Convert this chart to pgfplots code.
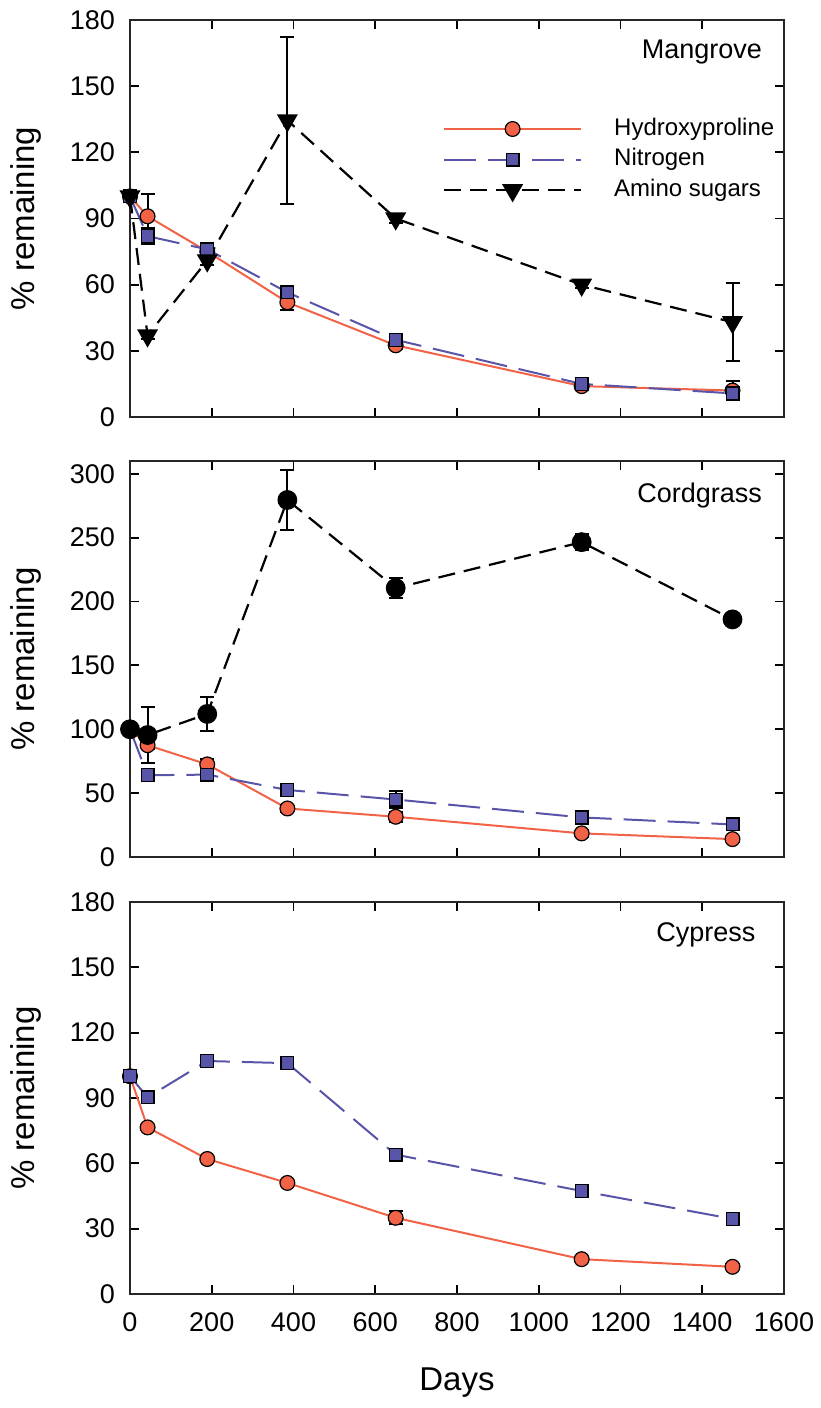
\documentclass[border=0pt]{standalone}
\usepackage{fontspec}
\setmainfont{Liberation Sans}
\usepackage{pgfplots}
\pgfplotsset{compat=1.18}

\definecolor{hydro}{RGB}{242,98,70}
\definecolor{nitro}{RGB}{88,84,168}

\pgfplotsset{
 panel/.style={
  scale only axis, width=327pt, xmin=0, xmax=1600, xtick={0,200,...,1600},
  tick align=inside, major tick length=4.5pt, tick style={line width=0.9pt, black},
  axis line style={line width=1pt, black!85},
  /pgf/number format/assume math mode=true, /pgf/number format/1000 sep={},
  ticklabel style={font=\fontsize{13.5}{16}\selectfont},
  yticklabel style={xshift=-4pt},
  xticklabel style={yshift=-6pt},
  ylabel={\% remaining},
  every axis y label/.style={at={(axis description cs:-0.159,0.5)}, rotate=90, anchor=center, font=\fontsize{16.5}{18}\selectfont},
  every axis x label/.style={at={(axis description cs:0.5,-0.227)}, anchor=center, font=\fontsize{16.5}{18}\selectfont},
  clip=false,
 },
 errs/.style={error bars/y dir=both, error bars/y explicit,
  error bars/error bar style={line width=1pt, black, solid},
  error bars/error mark options={rotate=90, line width=1pt, black, solid, mark size=3.5pt}},
 hyd/.style={errs, color=hydro, line width=1pt, mark=*, mark size=3.7pt, mark options={solid, fill=hydro, draw=black, line width=0.6pt}},
 nit/.style={errs, color=nitro, line width=1pt, dash pattern=on 16pt off 6pt, mark=square*, mark size=3.2pt, mark options={solid, fill=nitro, draw=black, line width=0.6pt}},
 ami/.style={errs, color=black, line width=1.1pt, dash pattern=on 8.5pt off 4.5pt, mark=triangle*, mark size=5pt, mark options={solid, rotate=180, fill=black, draw=black}},
 amic/.style={errs, color=black, line width=1.1pt, dash pattern=on 8.5pt off 4.5pt, mark=*, mark size=4.4pt, mark options={solid, fill=black, draw=black}},
}

\begin{document}
\begin{tikzpicture}
\path (0pt,0pt) rectangle (408.5pt,-704pt);

% ---------------- Mangrove
\begin{axis}[panel, at={(65pt,-208.5pt)}, anchor=south west, height=198.5pt,
  ymin=0, ymax=180, ytick={0,30,...,180}, xticklabels={},
  legend style={draw=none, fill=none, at={(axis description cs:0.4786,0.7607)}, anchor=north west,
    inner sep=0pt, outer sep=0pt, row sep=1.3pt, nodes={inner sep=1pt, text height=9pt, text depth=3pt},
    font=\fontsize{12}{14}\selectfont, /tikz/every odd column/.append style={column sep=15pt}},
  legend cell align=left,
  legend image code/.code={\draw[mark repeat=2,mark phase=2,#1] plot coordinates {(0pt,0pt) (34.25pt,0pt) (68.5pt,0pt)};}]
\addplot[hyd] table[x=x,y=y,y error=e] {
x y e
0 100 0
43 91 10
189 75 2
385 52 3.5
650 32.5 1.5
1105 14 1.5
1474 12 4.5
};
\addlegendentry{Hydroxyproline}
\addplot[nit] table[x=x,y=y,y error=e] {
x y e
0 100 0
43 82 3.5
189 76 2
385 56.5 2
650 35 1.5
1105 15 1
1474 10.7 2
};
\addlegendentry{Nitrogen}
\addplot[ami] table[x=x,y=y,y error=e] {
x y e
0 100 0
43 37 1.5
189 71 2
385 134.5 38
650 90 2
1105 60 1.5
1474 43 17.7
};
\addlegendentry{Amino sugars}
\node[anchor=east, font=\fontsize{13.5}{16}\selectfont] at (axis description cs:0.977,0.919) {Mangrove};
\end{axis}

% ---------------- Cordgrass
\begin{axis}[panel, at={(65pt,-428.5pt)}, anchor=south west, height=198pt,
  ymin=0, ymax=310, ytick={0,50,...,300}, xticklabels={}]
\addplot[hyd] table[x=x,y=y,y error=e] {
x y e
0 100 0
43 87.5 3
189 72.5 4
385 38 3
650 31.5 4
1105 18.5 3
1474 14 2
};
\addplot[nit] table[x=x,y=y,y error=e] {
x y e
0 100 0
43 64 3
189 64.5 3
385 52.5 3
650 45 7
1105 31 5
1474 25.5 2
};
\addplot[amic] table[x=x,y=y,y error=e] {
x y e
0 100 0
43 95.5 22
189 112 13
385 279.5 23.5
650 210.5 8
1105 246.5 6.5
1474 186 3
};
\node[anchor=east, font=\fontsize{13.5}{16}\selectfont] at (axis description cs:0.977,0.912) {Cordgrass};
\end{axis}

% ---------------- Cypress
\begin{axis}[panel, at={(65pt,-647pt)}, anchor=south west, height=196pt,
  ymin=0, ymax=180, ytick={0,30,...,180}, xlabel={Days}]
\addplot[hyd] table[x=x,y=y,y error=e] {
x y e
0 100 0
43 76.5 1
189 62 1
385 51 1
650 35 3
1105 16 0.5
1474 12.5 0.5
};
\addplot[nit] table[x=x,y=y,y error=e] {
x y e
0 100 0
43 90.3 0.5
189 107 0.5
385 106 0.5
650 64 0.5
1105 47.3 0.5
1474 34.5 0.5
};
\node[anchor=east, font=\fontsize{13.5}{16}\selectfont] at (axis description cs:0.967,0.916) {Cypress};
\end{axis}
\end{tikzpicture}
\end{document}
